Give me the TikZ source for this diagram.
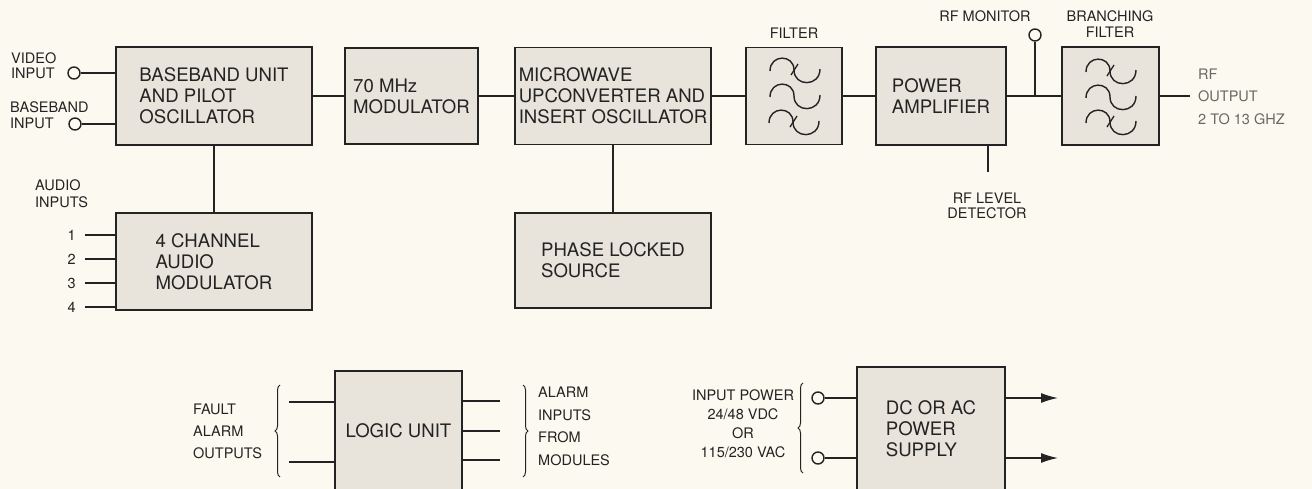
\documentclass[tikz,border=0pt]{standalone}
\usepackage{fontspec}
\setmainfont{TeX Gyre Heros}
\usetikzlibrary{decorations.pathreplacing,arrows.meta}
\definecolor{bg}{RGB}{252,250,240}
\definecolor{boxfill}{RGB}{232,228,219}
\definecolor{ink}{RGB}{35,35,35}
\definecolor{faded}{RGB}{105,105,100}
\newcommand\bxfont{\fontsize{18.6}{20.8}\selectfont}
\begin{document}
\begin{tikzpicture}[x=1pt,y=-1pt,
  box/.style={draw=ink, line width=1.4pt, fill=boxfill, align=left, inner sep=0pt, font=\bxfont, text=ink},
  lbl/.style={text=ink, inner sep=0pt},
  wire/.style={draw=ink, line width=1.4pt},
  port/.style={circle, draw=ink, line width=1.4pt, fill=bg, minimum size=12pt, inner sep=0pt},
  brc/.style={draw=ink, line width=1pt, decorate, decoration={brace, amplitude=5pt}},
  wavetick/.pic={
    \draw[ink, line width=1.4pt] (-24,1) .. controls (-24,-16) and (0,-16) .. (0,0) .. controls (0,17) and (26,17) .. (26,-1);
    \draw[ink, line width=1.3pt] (4,-6) -- (-3,5);
  },
  wave/.pic={
    \draw[ink, line width=1.4pt] (-24,1) .. controls (-24,-16) and (0,-16) .. (0,0) .. controls (0,17) and (26,17) .. (26,-1);
  }
]
\path[use as bounding box, fill=bg] (0,0) rectangle (1312,489);

% main row boxes
\node[box, minimum width=196pt, minimum height=98pt] (bb) at (214,96) {BASEBAND UNIT\\AND PILOT\\OSCILLATOR};
\node[box, minimum width=133pt, minimum height=96pt] (mod) at (411.5,96) {70 MHz\\MODULATOR};
\node[box, minimum width=196pt, minimum height=97pt] (mw) at (613,96) {MICROWAVE\\UPCONVERTER AND\\INSERT OSCILLATOR};
\node[box, minimum width=96pt, minimum height=97pt] (filt) at (794,96) {};
\node[box, minimum width=130pt, minimum height=98pt] (pa) at (941,96) {POWER\\AMPLIFIER};
\node[box, minimum width=97pt, minimum height=98pt] (bf) at (1110.5,96) {};
\node[box, minimum width=196pt, minimum height=97pt] (aud) at (214,261.5) {4 CHANNEL\\AUDIO\\MODULATOR};
\node[box, minimum width=196pt, minimum height=95pt] (pls) at (613,260.5) {PHASE LOCKED\\SOURCE};
\node[box, minimum width=127pt, minimum height=120pt, align=center] (logic) at (398.5,431) {LOGIC UNIT};
\node[box, minimum width=148pt, minimum height=124pt] (ps) at (931,429) {DC OR AC\\POWER\\SUPPLY};

% filter symbols
\pic at (794,70) {wavetick};
\pic at (794,96) {wave};
\pic at (793,122) {wavetick};
\pic at (1110,71) {wavetick};
\pic at (1110,97) {wave};
\pic at (1110,122) {wavetick};

% main connections
\draw[wire] (bb.east) -- (mod.west);
\draw[wire] (mod.east) -- (mw.west);
\draw[wire] (mw.east) -- (filt.west);
\draw[wire] (filt.east) -- (pa.west);
\draw[wire] (pa.east) -- (bf.west);
\draw[wire] (bb.south) -- (aud.north);
\draw[wire] (mw.south) -- (pls.north);

% inputs
\node[port] (vin) at (74,73) {};
\node[port] (bin) at (75,124) {};
\draw[wire] (vin.east) -- (vin.east -| bb.west);
\draw[wire] (bin.east) -- (bin.east -| bb.west);
\node[lbl, anchor=west, align=left, font=\fontsize{14.5}{15}\selectfont] (vlab) at (11,65.5) {VIDEO\\INPUT};
\node[lbl, anchor=west, align=left, font=\fontsize{14.5}{16}\selectfont] (blab) at (10,115) {BASEBAND\\INPUT};
\node[lbl, anchor=west, align=left, font=\fontsize{14.5}{16.5}\selectfont] (alab) at (35,193.5) {AUDIO\\INPUTS};
\foreach \i/\y in {1/235,2/259,3/283,4/307}{
  \node[lbl, anchor=east, font=\fontsize{14.5}{15}\selectfont] (n\i) at (76,\y) {\i};
  \coordinate (a\i) at (85,\y);
  \draw[wire] (a\i) -- (a\i -| aud.west);
}

% top labels
\node[lbl, font=\fontsize{14.5}{15}\selectfont] (flab) at (794,33) {FILTER};
\node[lbl, font=\fontsize{14.5}{15}\selectfont] (mlab) at (985,16) {RF MONITOR};
\node[lbl, align=center, font=\fontsize{14.5}{16}\selectfont] (bflab) at (1110,24) {BRANCHING\\FILTER};

% RF monitor and detector
\node[port] (mon) at (1035,35) {};
\coordinate (j) at (1035,96);
\draw[wire] (mon.south) -- (j);
\coordinate (det) at (988,172);
\draw[wire] (det |- pa.south) -- (det);
\node[lbl, align=center, font=\fontsize{14.5}{15.5}\selectfont] (dlab) at (987,206) {RF LEVEL\\DETECTOR};

% RF output
\coordinate (rfo) at (1190,96);
\draw[wire] (bf.east) -- (rfo);
\node[lbl, text=faded, anchor=west, align=left, font=\fontsize{14.5}{22.5}\selectfont] (rflab) at (1198,96.5) {RF\\OUTPUT\\2 TO 13 GHZ};

% logic unit
\coordinate (fo1) at (289,402);
\coordinate (fo2) at (289,462);
\draw[wire] (fo1) -- (fo1 -| logic.west);
\draw[wire] (fo2) -- (fo2 -| logic.west);
\coordinate (ai1) at (500,401);
\coordinate (ai2) at (500,431);
\coordinate (ai3) at (500,460);
\foreach \k in {1,2,3}{ \draw[wire] (ai\k -| logic.east) -- (ai\k); }
\draw[brc] (280,477) -- (280,385);
\draw[brc] (523,385) -- (523,477);
\node[lbl, anchor=west, align=left, font=\fontsize{14.5}{22}\selectfont] (falab) at (193,431) {FAULT\\ALARM\\OUTPUTS};
\node[lbl, anchor=west, align=left, font=\fontsize{14.5}{22.5}\selectfont] (ailab) at (538,426.5) {ALARM\\INPUTS\\FROM\\MODULES};

% power supply
\node[port] (p1) at (818,398) {};
\node[port] (p2) at (818,458) {};
\draw[wire] (p1.east) -- (p1.east -| ps.west);
\draw[wire] (p2.east) -- (p2.east -| ps.west);
\coordinate (o1) at (1058,398);
\coordinate (o2) at (1058,458);
\draw[wire, -{Latex[length=17pt,width=10pt]}] (o1 -| ps.east) -- (o1);
\draw[wire, -{Latex[length=17pt,width=10pt]}] (o2 -| ps.east) -- (o2);
\draw[brc] (803,473) -- (803,383);
\node[lbl, align=center, font=\fontsize{14.5}{19}\selectfont] (iplab) at (743,423.5) {INPUT POWER\\24/48 VDC\\OR\\115/230 VAC};
\end{tikzpicture}
\end{document}
